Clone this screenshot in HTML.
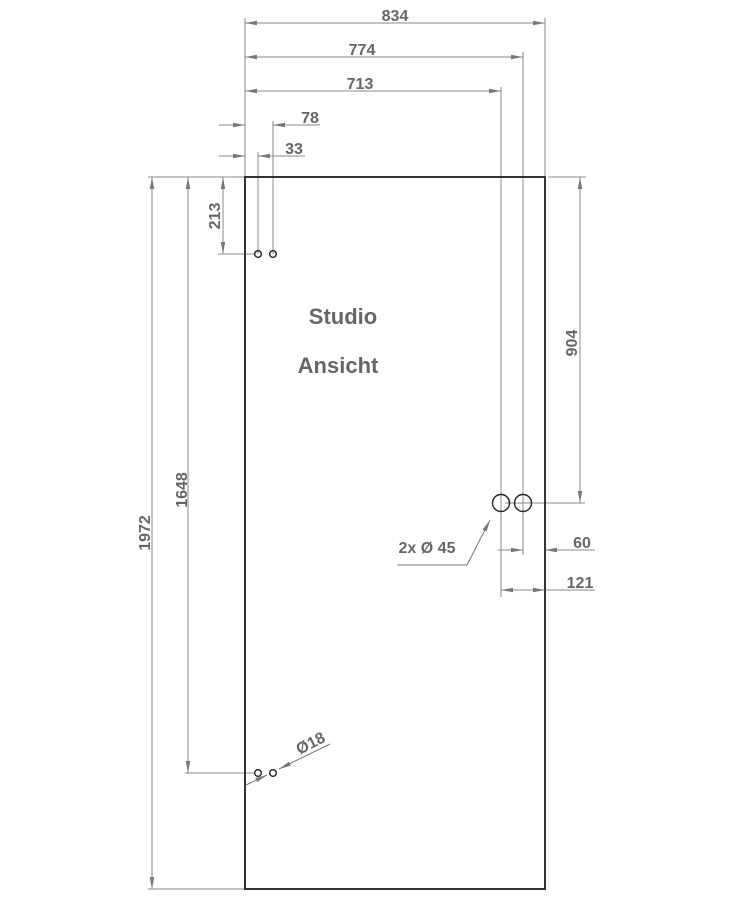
<!DOCTYPE html>
<html><head><meta charset="utf-8"><style>
html,body{margin:0;padding:0;background:#fff}
svg{display:block}
text{font-family:"Liberation Sans",Arial,sans-serif;font-weight:bold;fill:#666}
</style></head><body>
<svg width="733" height="900" viewBox="0 0 733 900" xmlns="http://www.w3.org/2000/svg">
<defs>
<marker id="a" viewBox="0 0 12 6" refX="12" refY="3" markerWidth="12" markerHeight="6" orient="auto-start-reverse" markerUnits="userSpaceOnUse">
<path d="M0,0.8 L12,3 L0,5.2 z" fill="#777"/>
</marker>
</defs>
<g stroke="#888" stroke-width="1" fill="none">
<line x1="245" y1="18" x2="245" y2="177"/>
<line x1="545" y1="18" x2="545" y2="177"/>
<line x1="523" y1="52" x2="523" y2="555"/>
<line x1="501" y1="87" x2="501" y2="597"/>
<line x1="273" y1="121" x2="273" y2="254"/>
<line x1="258" y1="152" x2="258" y2="254"/>
<line x1="148" y1="177" x2="245" y2="177"/>
<line x1="548" y1="177" x2="586" y2="177"/>
<line x1="218" y1="254" x2="255" y2="254"/>
<line x1="185" y1="773" x2="255" y2="773"/>
<line x1="148" y1="889" x2="245" y2="889"/>
<line x1="505" y1="503" x2="585" y2="503"/>
<line x1="245" y1="23" x2="545" y2="23" marker-start="url(#a)" marker-end="url(#a)"/>
<line x1="245" y1="57" x2="523" y2="57" marker-start="url(#a)" marker-end="url(#a)"/>
<line x1="245" y1="91" x2="501" y2="91" marker-start="url(#a)" marker-end="url(#a)"/>
<line x1="219" y1="125" x2="245" y2="125" marker-end="url(#a)"/>
<line x1="320" y1="125" x2="273" y2="125" marker-end="url(#a)"/>
<line x1="219" y1="156" x2="245" y2="156" marker-end="url(#a)"/>
<line x1="305" y1="156" x2="258" y2="156" marker-end="url(#a)"/>
<line x1="223" y1="177" x2="223" y2="254" marker-start="url(#a)" marker-end="url(#a)"/>
<line x1="188" y1="177" x2="188" y2="773" marker-start="url(#a)" marker-end="url(#a)"/>
<line x1="152" y1="177" x2="152" y2="889" marker-start="url(#a)" marker-end="url(#a)"/>
<line x1="580" y1="177" x2="580" y2="503" marker-start="url(#a)" marker-end="url(#a)"/>
<line x1="498" y1="550" x2="523" y2="550" marker-end="url(#a)"/>
<line x1="595" y1="550" x2="545" y2="550" marker-end="url(#a)"/>
<line x1="501" y1="590" x2="545" y2="590" marker-start="url(#a)" marker-end="url(#a)"/>
<line x1="545" y1="590" x2="595" y2="590"/>
<polyline points="397,565 467,565 490,520" marker-end="url(#a)" stroke="#777"/>
<line x1="246" y1="785" x2="267" y2="775" marker-end="url(#a)" stroke="#777"/>
<line x1="330" y1="744" x2="279" y2="769" marker-end="url(#a)" stroke="#777"/>
</g>
<rect x="245" y="177" width="300" height="712" fill="none" stroke="#333" stroke-width="2"/>
<g fill="none" stroke="#222" stroke-width="1.4">
<circle cx="258" cy="254" r="3.3"/><circle cx="273" cy="254" r="3.3"/>
<circle cx="258" cy="773" r="3.3"/><circle cx="273" cy="773" r="3.3"/>
<circle cx="501" cy="503" r="8.5"/><circle cx="523" cy="503" r="8.5"/>
</g>
<g font-size="16" text-anchor="middle">
<text x="395" y="21">834</text>
<text x="362" y="55">774</text>
<text x="360" y="89">713</text>
<text x="310" y="123">78</text>
<text x="294" y="154">33</text>
<text x="582" y="548">60</text>
<text x="580" y="588">121</text>
<text x="427" y="553">2x Ø 45</text>
<text transform="translate(220,216) rotate(-90)">213</text>
<text transform="translate(187,490) rotate(-90)">1648</text>
<text transform="translate(150,533) rotate(-90)">1972</text>
<text transform="translate(577,343) rotate(-90)">904</text>
<text transform="translate(313,748) rotate(-27)">Ø18</text>
</g>
<g font-size="22" text-anchor="middle">
<text x="343" y="324">Studio</text>
<text x="338" y="373">Ansicht</text>
</g>
</svg>
</body></html>
